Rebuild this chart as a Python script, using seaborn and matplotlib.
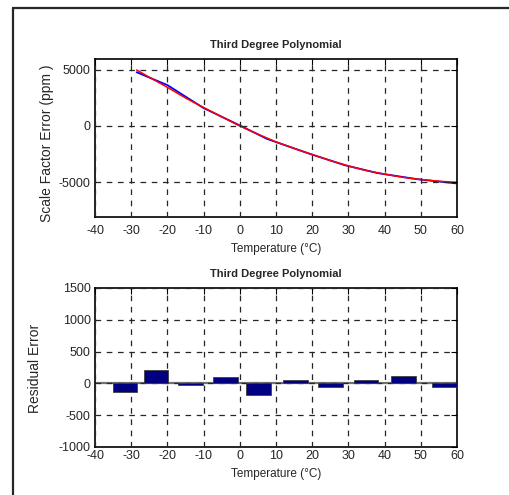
import matplotlib
matplotlib.use("Agg")
import matplotlib.pyplot as plt
from matplotlib.lines import Line2D
import seaborn as sns

sns.set_theme(style="white")
plt.rcParams['font.family'] = ['Liberation Sans Narrow', 'Liberation Sans', 'DejaVu Sans']
plt.rcParams['axes.unicode_minus'] = False

# measured scale factor error (blue) and third degree fit (red)
temp_meas = [-28.5, -20, -10, 0, 7.5, 19, 29, 38, 49, 60]
sf_meas = [4800, 3650, 1600, 50, -1150, -2450, -3500, -4200, -4750, -5130]
temp_fit = [-28.5, -25, -20, -15, -10, -5, 0, 5, 10, 15, 20, 25, 30, 35, 40, 45, 50, 55, 60]
sf_fit = [5000, 4350, 3450, 2500, 1650, 820, 0, -730, -1420, -2000, -2550,
          -3080, -3570, -3980, -4300, -4580, -4780, -4930, -5030]

# residuals
temp_res = [-31.7, -23.2, -13.6, -4.0, 5.2, 15.4, 25.0, 34.9, 45.2, 56.6]
resid = [-143, 217, -25, 95, -185, 58, -63, 58, 111, -63]

xticks = [-40, -30, -20, -10, 0, 10, 20, 30, 40, 50, 60]

fig = plt.figure(figsize=(5.1, 4.95), dpi=100)
fig.patch.set_facecolor("white")
ax1 = fig.add_axes([0.1863, 0.5616, 0.7098, 0.3192])
ax2 = fig.add_axes([0.1863, 0.0970, 0.7098, 0.3212])

sns.lineplot(x=temp_meas, y=sf_meas, ax=ax1, color="blue", lw=1.3)
sns.lineplot(x=temp_fit, y=sf_fit, ax=ax1, color="red", lw=1.1)
ax1.set_ylim(-8125, 5980)
ax1.set_yticks([-5000, 0, 5000])
ax1.set_ylabel("Scale Factor Error (ppm )", fontsize=10)
ax1.yaxis.set_label_coords(-0.113, 0.465)

ax2.axhline(0, color="0.45", lw=1.6, zorder=1)
sns.barplot(x=temp_res, y=resid, ax=ax2, native_scale=True, color="#000080",
            saturation=1, edgecolor="0.25", linewidth=0.6, zorder=3)
ax2.set_ylim(-1000, 1500)
ax2.set_yticks([-1000, -500, 0, 500, 1000, 1500])
ax2.set_ylabel("Residual Error", fontsize=10)
ax2.yaxis.set_label_coords(-0.146, 0.494)

for ax, xpad in ((ax1, 6), (ax2, 2.5)):
    ax.set_xlim(-40, 60)
    ax.set_xticks(xticks)
    ax.set_title("Third Degree Polynomial", fontsize=8, fontweight="bold",
                 family=["Liberation Sans", "DejaVu Sans"], pad=8)
    ax.set_xlabel("Temperature (\u00b0C)", fontsize=8.5, labelpad=4)
    ax.grid(True, color="0.15", linestyle=(0, (4.5, 4.5)), lw=0.9)
    ax.set_axisbelow(False)
    ax.tick_params(direction="in", length=4, width=0.8, top=True, right=True,
                   labelsize=9, color="black")
    ax.tick_params(axis="x", pad=xpad)
    ax.tick_params(axis="y", pad=3)
    for s in ax.spines.values():
        s.set_color("black")
        s.set_linewidth(1.2)
    ax.set_facecolor("white")

# outer frame (only top and left edges visible)
fig.add_artist(Line2D([13 / 510, 1.0], [1 - 8 / 495, 1 - 8 / 495],
                      transform=fig.transFigure, color="0.15", lw=1.6))
fig.add_artist(Line2D([13.5 / 510, 13.5 / 510], [0.0, 1 - 8 / 495],
                      transform=fig.transFigure, color="0.15", lw=1.6))

fig.savefig("out.png", dpi=100)
